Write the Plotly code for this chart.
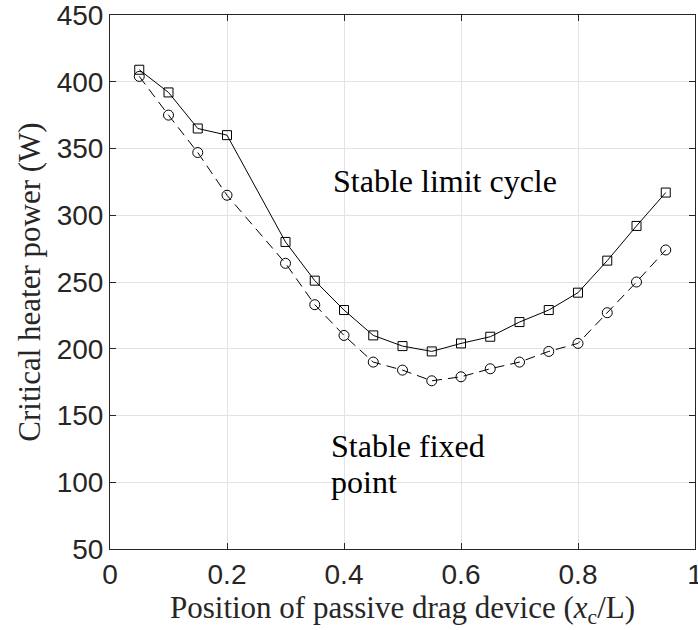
import plotly.graph_objects as go

# Data
positions = [0.05, 0.10, 0.15, 0.20, 0.30, 0.35, 0.40, 0.45, 0.50, 0.55,
             0.60, 0.65, 0.70, 0.75, 0.80, 0.85, 0.90, 0.95]
upper_power = [409, 392, 365, 360, 280, 251, 229, 210, 202, 198,
               204, 209, 220, 229, 242, 266, 292, 317]
lower_power = [404, 375, 347, 315, 264, 233, 210, 190, 184, 176,
               179, 185, 190, 198, 204, 227, 250, 274]

x_ticks = [0, 0.2, 0.4, 0.6, 0.8, 1]
x_tick_labels = ["0", "0.2", "0.4", "0.6", "0.8", "1"]
y_ticks = [50, 100, 150, 200, 250, 300, 350, 400, 450]

AX = "#262626"
SERIF = "Liberation Serif, Times New Roman, serif"
SANS = "Liberation Sans, Arial, sans-serif"

fig = go.Figure()
fig.add_trace(go.Scatter(
    x=positions, y=lower_power, mode="lines+markers",
    line=dict(color="black", width=1, dash="10px,6px"),
    marker=dict(symbol="circle-open", size=10, color="black", line=dict(width=1)),
    showlegend=False))
fig.add_trace(go.Scatter(
    x=positions, y=upper_power, mode="lines+markers",
    line=dict(color="black", width=1),
    marker=dict(symbol="square-open", size=9, color="black", line=dict(width=1)),
    showlegend=False))

fig.add_annotation(x=0.377, y=325.7, xref="x", yref="y", text="Stable limit cycle",
                   showarrow=False, xanchor="left", yanchor="middle",
                   font=dict(family=SERIF, size=32, color="black"))
fig.add_annotation(x=0.374, y=127.0, xref="x", yref="y", text="Stable fixed",
                   showarrow=False, xanchor="left", yanchor="middle",
                   font=dict(family=SERIF, size=32, color="black"))
fig.add_annotation(x=0.374, y=100.1, xref="x", yref="y", text="point",
                   showarrow=False, xanchor="left", yanchor="middle",
                   font=dict(family=SERIF, size=32, color="black"))

fig.update_layout(
    width=698, height=630,
    margin=dict(l=110, r=3, t=15, b=81, autoexpand=False),
    paper_bgcolor="white", plot_bgcolor="white",
    xaxis=dict(range=[0, 1], tickvals=x_ticks, ticktext=x_tick_labels,
               automargin=False,
               showgrid=True, gridcolor="#e3e3e3", gridwidth=1, zeroline=False,
               showline=True, linecolor=AX, linewidth=1, mirror="ticks",
               ticks="inside", ticklen=6, tickcolor=AX,
               ticklabeloverflow="allow",
               tickfont=dict(family=SANS, size=28, color=AX),
               title=dict(text="Position of passive drag device (<i>x</i><sub>c</sub>/L)",
                          font=dict(family=SERIF, size=31, color=AX), standoff=0)),
    yaxis=dict(range=[50, 450], tickvals=y_ticks,
               automargin=False,
               showgrid=True, gridcolor="#e3e3e3", gridwidth=1, zeroline=False,
               showline=True, linecolor=AX, linewidth=1, mirror="ticks",
               ticks="inside", ticklen=6, tickcolor=AX,
               ticklabeloverflow="allow",
               tickfont=dict(family=SANS, size=28, color=AX),
               title=dict(text="Critical heater power (W)",
                          font=dict(family=SERIF, size=31, color=AX), standoff=6)),
)

fig.write_html("out.html")
